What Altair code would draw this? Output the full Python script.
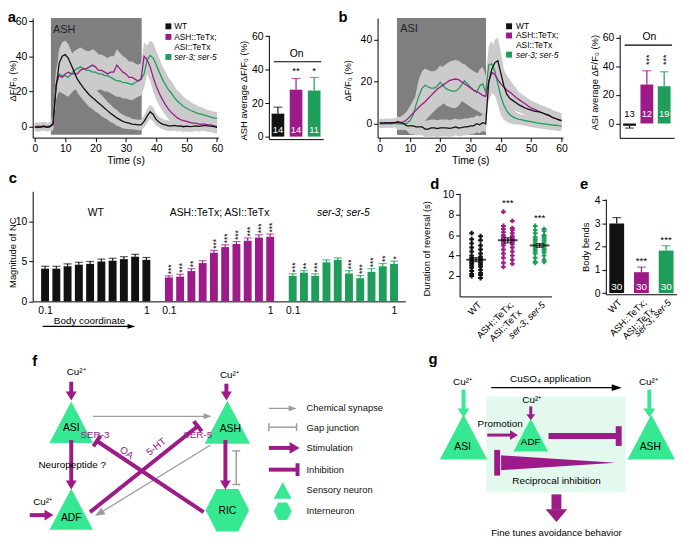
import math
import altair as alt
import pandas as pd

FONT = "Liberation Sans"
W, H = 677, 533          # drawing area (page minus 8px margin)
OX, OY = 8, 8            # page offset of the chart origin

GROUPS = ["WT", "ASH::TeTx; ASI::TeTx", "ser-3; ser-5"]
GROUP_COLORS = ["#111111", "#9c1b88", "#1f9d5a"]
PURPLE = "#9c1b88"
MINT = "#36e891"
ARROW_GRAY = "#9d9d9d"
BOX_GRAY = "#7f7f7f"
BAND_GRAY = "#cbcbcb"
BOX_MINT = "#e3f9ee"

# ---------------- panel a : ASH imaging ----------------
time_s = list(range(61))
a_wt = [0, -0.5, 0, 0.3, -0.3, 0,
        2, 22, 36, 40, 41, 39, 35, 31, 27, 24.5,
        22, 20, 18, 16.5, 15, 13.5, 12, 10.5, 9, 7.5,
        6.3, 5, 4, 3, 2.4, 2, 1.5, 1.3, 1, 1,
        3, 6, 8.5, 7, 4, 2.5, 1.5, 1, 0.5, 0.5,
        0.8, 0.3, 0.5, 0, 0.3, 0, 0.2, 0.5, 0.2, 0.5,
        0.8, 0.5, 0.3, 0, -0.3]
a_tetx = [-0.5, 0, -0.5, 0, -0.3, 0,
          1, 24, 29, 28, 30, 31, 30, 30, 30, 32,
          33, 33, 34, 35, 34, 32, 32, 31, 30, 31,
          31, 35, 33, 31, 30, 28, 28, 27, 26, 27,
          40, 38, 34, 28, 23, 19, 15.5, 12.5, 10, 8,
          6.5, 5, 4, 3.5, 3, 2.5, 2, 2, 1.5, 1.5,
          1.5, 1, 1, 0.5, 0]
a_ser = [0, 0.5, 0, 0.5, 0, 0.5,
         1, 24, 30, 29, 29, 28, 30, 32, 33, 34,
         33, 32, 32, 31, 31, 30, 30, 29, 29, 28,
         27, 26, 26, 25, 25, 24.5, 24, 25, 26, 27,
         30, 38, 40.5, 39, 35, 31, 27, 24, 21, 19,
         16.5, 14.5, 13, 11.5, 10.5, 9.5, 8.8, 8, 7.5, 7,
         6.5, 6, 5.5, 5, 4.8]
a_wt_sem = [2.5, 2.5, 2.5, 2.5, 2.5, 2.5,
            4, 7, 8, 8, 8, 8, 8, 8, 7.5, 7.5,
            7, 7, 7, 6.5, 6.5, 6, 6, 5.5, 5, 5,
            4.5, 4.5, 4, 4, 3.5, 3.5, 3, 3, 3, 3,
            3.5, 4, 4, 4, 3.5, 3, 3, 3, 3, 3,
            3, 3, 3, 3, 3, 3, 3, 3, 3, 3,
            3, 3, 3, 3, 3]
a_tetx_sem = [2, 2, 2, 2, 2, 2,
              3, 8, 9, 9, 9, 9, 9, 9, 9, 9,
              9, 9, 9, 9, 9, 9, 9, 9, 9, 9,
              9, 9, 9, 9, 9, 9, 9, 9, 9, 9,
              8, 8, 8, 8, 7.5, 7, 6.5, 6, 5.5, 5,
              4.5, 4, 4, 4, 4, 4, 4, 4, 4, 4,
              4, 4, 4, 4, 4]
a_ser_sem = [2, 2, 2, 2, 2, 2,
             3, 8, 9, 10, 11, 11, 11, 11, 11, 11,
             11, 11, 11, 11, 11, 9, 9, 9, 9, 9,
             9, 9, 9, 9, 9, 9, 9, 9, 9, 9,
             8, 8, 8.5, 8.5, 8, 8, 7.5, 7.5, 7, 7,
             6.5, 6, 6, 5.5, 5, 5, 4.5, 4.5, 4, 4,
             3.5, 3.5, 3.5, 3.5, 3.5]

# ---------------- panel b : ASI imaging ----------------
b_wt = [0.5, 0.3, 0.5, 0.3, 0.5, 0.5,
        1, 0.5, 0, -1, -1, -1, -1.5, -1.5, -1.5, -2.5,
        -2.5, -2, -2, -2.3, -2, -2, -2, -2.2, -2, -1.5,
        -2, -1.8, -1.5, -1.5, -1, -1, 0, -0.5, 0.5, 0,
        20, 26, 29, 30, 24, 18, 14, 12, 11, 10,
        9, 8.3, 7.5, 7, 6.5, 6, 5.8, 5.5, 5, 4.5,
        4, 3, 2.5, 2, 1.5]
b_tetx = [0, 0.3, 0, 0.5, 0.3, 0.5,
          0.5, 0.5, 1, 2, 3.5, 5, 6.5, 8, 9.3, 10.5,
          12, 13.5, 15, 16.5, 17.5, 18.5, 19.5, 20.5, 21, 21.3,
          21, 20, 19, 18, 17, 16, 15.3, 14.5, 13.5, 13,
          20, 24.5, 23.5, 21, 19, 17.5, 16, 15, 13.8, 12.5,
          11.5, 10.5, 9.5, 8.5, 7.5, 7, 6.3, 5.6, 5, 4.3,
          3.7, 3, 2.5, 2, 1.5]
b_ser = [0, 0, 0.3, 0, 0, 0.3,
         0, 0, 0, 0.3, 1.5, 4, 9, 13.5, 17, 18.3,
         17.5, 17, 17, 18, 19.8, 18, 16.6, 16, 15.5, 15.5,
         16.5, 18.5, 20.5, 19, 17.4, 16, 15, 18, 19, 15,
         28, 28.5, 25, 19, 13, 8.8, 6, 4.3, 3.3, 2.6,
         2.1, 1.8, 1.5, 1.2, 1, 0.7, 0.4, 0.2, 0, -0.2,
         -0.4, -0.6, -0.7, -0.9, -1]
b_wt_sem = [2, 2, 2, 2, 2, 2,
            2.5, 2.5, 2.5, 2.5, 4, 4, 4, 4, 4, 4,
            4, 4, 4, 4, 4, 4, 4, 4, 4, 4,
            4, 4, 4, 4, 4, 4, 4, 4, 4, 4,
            6, 9, 11, 11, 10, 8, 6, 5, 4.5, 4,
            3.5, 3.5, 3.5, 3.5, 3.5, 3.5, 3.5, 3.5, 3.5, 3.5,
            3.5, 3.5, 3.5, 3.5, 3.5]
b_tetx_sem = [2, 2, 2, 2, 2, 2,
              2.5, 3, 3.5, 4, 5, 6, 7, 8, 9, 9,
              9, 9, 9, 9, 9, 9, 9, 9, 9, 9,
              9, 9, 9, 9, 9, 9, 9, 9, 9, 9,
              9, 10, 10, 10, 9, 8, 7, 6, 5, 4.5,
              3.5, 3.5, 3.5, 3.5, 3.5, 3.5, 3.5, 3.5, 3.5, 3.5,
              3.5, 3.5, 3.5, 3.5, 3.5]
b_ser_sem = [2, 2, 2, 2, 2, 2,
             3, 3, 3, 3, 3, 3, 6, 8, 8, 8,
             8, 8, 8, 8, 8, 8, 8, 8, 8, 8,
             8, 8, 8, 8, 8, 8, 8, 8, 8, 8,
             9, 11, 11, 10, 9, 7, 5, 4, 3.5, 3,
             2.5, 2.5, 2.5, 2.5, 2.5, 2.5, 2.5, 2.5, 2.5, 2.5,
             2.5, 2.5, 2.5, 2.5, 2.5]

# ---------------- averages ----------------
a_avg = [13.7, 28.0, 27.5]
a_avg_err = [3.9, 6.7, 7.8]
a_avg_n = ["14", "14", "11"]
a_avg_sig = ["", "**", "*"]

b_avg = [-1.6, 27.2, 26.0]
b_avg_err = [1.6, 9.6, 10.1]
b_avg_n = ["13", "12", "19"]
b_avg_sig = ["", "***", "***"]

# ---------------- panel c ----------------
body_coord = [0.1, 0.2, 0.3, 0.4, 0.5, 0.6, 0.7, 0.8, 0.9, 1.0]
c_wt = [4.1, 4.1, 4.4, 4.6, 4.7, 5.0, 5.1, 5.3, 5.6, 5.2]
c_wt_err = [0.3, 0.3, 0.3, 0.3, 0.3, 0.3, 0.3, 0.3, 0.3, 0.3]
c_tetx = [3.0, 3.1, 3.8, 4.8, 6.1, 6.8, 7.2, 7.6, 8.0, 8.1]
c_tetx_err = [0.2, 0.3, 0.3, 0.3, 0.3, 0.3, 0.3, 0.35, 0.35, 0.35]
c_ser = [3.2, 3.6, 3.2, 4.9, 5.2, 3.5, 2.9, 3.7, 4.4, 4.7]
c_ser_err = [0.25, 0.25, 0.25, 0.3, 0.25, 0.35, 0.35, 0.4, 0.35, 0.35]
c_wt_sig = ["", "", "", "", "", "", "", "", "", ""]
c_tetx_sig = ["***", "***", "**", "", "***", "***", "***", "***", "***", "***"]
c_ser_sig = ["***", "**", "***", "", "", "***", "***", "***", "**", "*"]

# ---------------- panel d ----------------
d_wt = [6.2, 5.9, 5.6, 5.5, 5.2, 5.0, 4.8, 4.6, 4.4, 4.2, 4.0, 3.9, 3.8, 3.7, 3.6,
        3.5, 3.4, 3.3, 3.2, 3.1, 3.0, 2.9, 2.8, 2.6, 2.5, 2.3, 2.2, 2.1, 2.0, 1.8]
d_tetx = [8.3, 7.4, 6.9, 6.7, 6.6, 6.5, 6.3, 6.2, 6.0, 5.9, 5.8, 5.7, 5.6, 5.5, 5.4,
          5.3, 5.2, 5.1, 5.0, 4.8, 4.6, 4.4, 4.2, 4.0, 3.8, 3.6, 3.3, 3.2, 2.9, 5.5]
d_ser = [6.9, 6.6, 6.5, 6.4, 6.2, 6.0, 5.8, 5.7, 5.6, 5.5, 5.4, 5.3, 5.2, 5.1, 5.0,
         4.9, 4.8, 4.7, 4.6, 4.5, 4.4, 4.3, 4.2, 4.0, 3.8, 3.6, 3.4, 3.4, 3.3, 5.9]
d_mean = [3.6, 5.5, 5.0]
d_sem = [0.2, 0.25, 0.18]
d_sig = ["", "***", "***"]

# ---------------- panel e ----------------
e_bends = [3.0, 0.9, 1.83]
e_err = [0.25, 0.22, 0.21]
e_n = ["30", "30", "30"]
e_sig = ["", "***", "***"]

color_scale = alt.Scale(domain=GROUPS, range=GROUP_COLORS)
CAT_EXPR = ("datum.value == 'ASH::TeTx; ASI::TeTx' ? ['ASH::TeTx;', 'ASI::TeTx'] : datum.label")
CAT_ITALIC = {"condition": {"test": "datum.value == 'ser-3; ser-5'", "value": "italic"}, "value": "normal"}


def lin(dom, r0, r1):
    return alt.Scale(domain=dom, range=[r0, r1], nice=False, zero=False)


def y_axis(left, ticks, title, tx, ty):
    return alt.Axis(orient="left", offset=-(left - OX), values=ticks, title=title,
                    titleX=tx, titleY=ty - OY, titleAngle=270, titleAlign="center",
                    titleBaseline="middle")


def x_axis(bottom, **kw):
    return alt.Axis(orient="bottom", offset=(bottom - OY) - H, **kw)


# ------------------------------------------------------------------
def line_panel(series, sems, geom, ydom, yticks, box_t, box_bottom, box_text, box_pos,
               leg_sq_t, leg_txt_t, leg_rows, ytitle_pos):
    left, right, top, bottom = geom
    rows = []
    for g, vals, ss in reversed(list(zip(GROUPS, series, sems))):
        for t, v, s in zip(time_s, vals, ss):
            rows.append(dict(t=t, v=v, lo=v - s, hi=v + s, g=g))
    df = pd.DataFrame(rows)
    xs = lin([-0.7, 60.5], left - OX, right - OX)
    ys = lin(ydom, bottom - OY, top - OY)
    xax = x_axis(bottom, values=[0, 10, 20, 30, 40, 50, 60], title="Time (s)",
                 titleX=(left + right) / 2 - OX, titleY=23, titleAlign="center",
                 titleBaseline="middle", titleFontSize=10.5)
    yax = y_axis(left, yticks, "ΔF/F₀ (%)", *ytitle_pos)

    def X(f):
        return alt.X(f"{f}:Q", scale=xs, axis=xax)

    def Y(f):
        return alt.Y(f"{f}:Q", scale=ys, axis=yax)

    box = pd.DataFrame([dict(t0=box_t[0], t1=box_t[1], v0=box_bottom, v1=ydom[1])])
    lab = pd.DataFrame([dict(t=box_pos[0], v=box_pos[1], s=box_text)])
    leg_sq = pd.DataFrame([dict(t=leg_sq_t, v=r[0], g=r[1]) for r in leg_rows if r[1]])
    leg_tx = pd.DataFrame([dict(t=leg_txt_t, v=r[0], s=r[2], it=r[3]) for r in leg_rows])
    col = alt.Color("g:N", scale=color_scale, legend=None)
    return alt.layer(
        alt.Chart(box).mark_rect(color=BOX_GRAY).encode(x=X("t0"), x2="t1", y=Y("v0"), y2="v1"),
        alt.Chart(df).mark_area(color=BAND_GRAY, opacity=1).encode(
            x=X("t"), y=Y("lo"), y2="hi", detail="g:N"),
        alt.Chart(df).mark_line(strokeWidth=1.3).encode(x=X("t"), y=Y("v"), color=col),
        alt.Chart(lab).mark_text(align="left", baseline="middle", fontSize=11, color="#222222").encode(
            x=X("t"), y=Y("v"), text="s:N"),
        alt.Chart(leg_sq).mark_square(size=36, opacity=1).encode(x=X("t"), y=Y("v"), color=col),
        alt.Chart(leg_tx).transform_filter("!datum.it").mark_text(
            align="left", baseline="middle", fontSize=8.5).encode(x=X("t"), y=Y("v"), text="s:N"),
        alt.Chart(leg_tx).transform_filter("datum.it").mark_text(
            align="left", baseline="middle", fontSize=8.5, fontStyle="italic").encode(
            x=X("t"), y=Y("v"), text="s:N"),
    )


def bar_panel(vals, errs, ns, sigs, geom, ydom, yticks, ytitle, ytitle_pos, band,
              n_v, n_dark, sig_v, sig_vertical, on=None, xlabels=False, bar_fs=9.5):
    left, right, top, bottom = geom
    rows = []
    for i, (g, v, e, n, s, sv) in enumerate(zip(GROUPS, vals, errs, ns, sigs, sig_v)):
        rows.append(dict(g=g, v=v, zero=0.0, end=(v + e) if v >= 0 else (v - e),
                         n=n, nv=n_v, dark=(i in n_dark), sig=s, sv=sv))
    df = pd.DataFrame(rows)
    xs = alt.Scale(domain=GROUPS, range=[left - OX, right - OX],
                   paddingInner=band[0], paddingOuter=band[1])
    ys = lin(ydom, bottom - OY, top - OY)
    if xlabels:
        xax = x_axis(bottom, ticks=False, title=None, labelAngle=-45, labelAlign="right",
                     labelBaseline="top", labelExpr=CAT_EXPR, labelFontStyle=CAT_ITALIC,
                     labelPadding=3, labelFontSize=9.5)
    else:
        xax = x_axis(bottom, ticks=False, labels=False, title=None)
    yax = y_axis(left, yticks, ytitle, *ytitle_pos)
    X = alt.X("g:N", scale=xs, axis=xax)

    def Y(f):
        return alt.Y(f"{f}:Q", scale=ys, axis=yax)

    col = alt.Color("g:N", scale=color_scale, legend=None)
    base = alt.Chart(df)
    if sig_vertical:
        star = base.mark_text(angle=270, fontSize=9, align="center", baseline="middle", dy=2)
    else:
        star = base.mark_text(fontSize=10, align="center", baseline="middle")
    layers = [
        base.mark_bar().encode(x=X, y=Y("v"), y2="zero", color=col),
        base.mark_rule(strokeWidth=1.2).encode(x=X, y=Y("v"), y2="end", color=col),
        base.mark_tick(size=9, thickness=1.2).encode(x=X, y=Y("end"), color=col),
        base.transform_filter("!datum.dark").mark_text(
            color="white", fontSize=bar_fs, baseline="middle").encode(x=X, y=Y("nv"), text="n:N"),
        base.transform_filter("datum.dark").mark_text(
            color="black", fontSize=bar_fs, baseline="middle").encode(x=X, y=Y("nv"), text="n:N"),
        star.encode(x=X, y=Y("sv"), text="sig:N"),
    ]
    if on:
        x1, x2, v, xt, vt = on
        odf = pd.DataFrame([dict(v=v, vt=vt, s="On")])
        layers.append(alt.Chart(odf).mark_rule(color="black", strokeWidth=1.2).encode(
            x=alt.value(x1 - OX), x2=alt.value(x2 - OX), y=Y("v")))
        layers.append(alt.Chart(odf).mark_text(fontSize=10.5, baseline="middle").encode(
            x=alt.value(xt - OX), y=Y("vt"), text="s:N"))
    return alt.layer(*layers)


# ---------------- panels a/b ----------------
panel_a = line_panel([a_wt, a_tetx, a_ser], [a_wt_sem, a_tetx_sem, a_ser_sem],
                     (33, 221, 15, 136), [-6.2, 61.7], [0, 20, 40, 60], (5.3, 35.2), -4.5,
                     "ASH", (6.0, 55), 44.0, 45.9,
                     [(57, "WT", "WT", False), (51, GROUPS[1], "ASH::TeTx;", False),
                      (45, None, "ASI::TeTx", False), (39.6, GROUPS[2], "ser-3; ser-5", True)],
                     (-20, 78))
panel_b = line_panel([b_wt, b_tetx, b_ser], [b_wt_sem, b_tetx_sem, b_ser_sem],
                     (382, 569.6, 15, 136), [-6.6, 50.3], [0, 20, 40], (5.7, 35.1), -5.3,
                     "ASI", (6.8, 45.3), 42.7, 45.0,
                     [(46.4, "WT", "WT", False), (42, GROUPS[1], "ASH::TeTx;", False),
                      (37.3, None, "ASI::TeTx", False), (32.9, GROUPS[2], "ser-3; ser-5", True)],
                     (-30, 78))
panel_a_bar = bar_panel(a_avg, a_avg_err, a_avg_n, a_avg_sig, (272, 327, 32.4, 137.5),
                        [-1.5, 60.5], [0, 20, 40, 60], "ASH average ΔF/F₀ (%)", (-25.5, 88),
                        (0.3, 0.15), 4, [], [0, 39.4, 39.4], False,
                        on=(277, 325, 44.7, 300, 49))
panel_b_bar = bar_panel(b_avg, b_avg_err, b_avg_n, b_avg_sig, (627, 682, 31.8, 136.2),
                        [-10, 62], [0, 20, 40, 60], "ASI average ΔF/F₀ (%)", (-25.5, 80),
                        (0.26, 0.2), 6.9, [0], [0, 44.5, 44.5], True,
                        on=(632, 680, 54.7, 657, 60))

# ---------------- panel c ----------------
c_rows = []
for gi, (g, vals, errs, sigs) in enumerate(zip(GROUPS, [c_wt, c_tetx, c_ser],
                                               [c_wt_err, c_tetx_err, c_ser_err],
                                               [c_wt_sig, c_tetx_sig, c_ser_sig])):
    for bc, v, e, s in zip(body_coord, vals, errs, sigs):
        c_rows.append(dict(g=g, pos=round(bc + 1.1 * gi, 3), v=v, zero=0.0, end=v + e, sig=s))
c_df = pd.DataFrame(c_rows)
c_titles = pd.DataFrame([dict(pos=0.55 + 1.1 * i, v=11.1, s=g, it=(i == 2)) for i, g in enumerate(GROUPS)])
xs_c = lin([0.034, 3.256], 33 - OX, 410 - OX)
ys_c = lin([0, 13.8], 301.7 - OY, 190.3 - OY)
xax_c = x_axis(301.7, values=[0.1, 1.0, 1.2, 2.1, 2.3, 3.2], ticks=False,
               labelExpr="(round(datum.value * 10) % 11 == 1) ? '0.1' : '1'", labelPadding=4,
               title="Body coordinate", titleX=90 - OX, titleY=19, titleAlign="center",
               titleBaseline="middle", titleFontSize=10)
yax_c = y_axis(33, [0, 5, 10], "Magnitude of NC", -20.5, 252)
Xc = alt.X("pos:Q", scale=xs_c, axis=xax_c)


def Yc(f):
    return alt.Y(f"{f}:Q", scale=ys_c, axis=yax_c)


col = alt.Color("g:N", scale=color_scale, legend=None)
panel_c = alt.layer(
    alt.Chart(c_df).mark_bar(size=8).encode(x=Xc, y=Yc("v"), y2="zero", color=col),
    alt.Chart(c_df).mark_rule(strokeWidth=1.2).encode(x=Xc, y=Yc("v"), y2="end", color=col),
    alt.Chart(c_df).mark_tick(orient="horizontal", size=8, thickness=1.2).encode(
        x=Xc, y=Yc("end"), color=col),
    alt.Chart(c_df).mark_text(angle=270, align="left", baseline="middle", fontSize=8.5, dx=1.5, dy=2).encode(
        x=Xc, y=Yc("end"), text="sig:N"),
    alt.Chart(c_titles).transform_filter("!datum.it").mark_text(fontSize=10.5, baseline="middle").encode(
        x=alt.X("pos:Q", scale=xs_c, axis=xax_c), y=Yc("v"), text="s:N"),
    alt.Chart(c_titles).transform_filter("datum.it").mark_text(
        fontSize=10.5, baseline="middle", fontStyle="italic").encode(
        x=alt.X("pos:Q", scale=xs_c, axis=xax_c), y=Yc("v"), text="s:N"),
)

# ---------------- panel d ----------------
d_rows = []
for gi, (g, vals) in enumerate(zip(GROUPS, [d_wt, d_tetx, d_ser])):
    for k, v in enumerate(vals):
        side = -1 if k % 2 == 0 else 1
        d_rows.append(dict(g=g, xp=gi + side * 0.14, v=v))
d_df = pd.DataFrame(d_rows)
d_stats = pd.DataFrame([dict(g=g, gi=i, m=m, lo=m - s, hi=m + s, sig=sg,
                             sv=(9.2 if i == 1 else 7.7))
                        for i, (g, m, s, sg) in enumerate(zip(GROUPS, d_mean, d_sem, d_sig))])
xs_d = lin([-0.519, 2.373], 465 - OX, 558 - OX)
ys_d = lin([0, 10.1], 296.7 - OY, 192.4 - OY)
xax_d = x_axis(296.7, values=[0, 1, 2], ticks=False, title=None, labelAngle=-45,
               labelAlign="right", labelBaseline="top", labelPadding=3, labelFontSize=9.5,
               labelExpr="datum.value == 0 ? 'WT' : datum.value == 1 ? ['ASH::TeTx;', 'ASI::TeTx'] : 'ser-3; ser-5'",
               labelFontStyle={"condition": {"test": "datum.value == 2", "value": "italic"},
                               "value": "normal"})
yax_d = y_axis(465, [2, 4, 6, 8, 10], "Duration of reversal (s)", -33, 248)


def Xd(f):
    return alt.X(f"{f}:Q", scale=xs_d, axis=xax_d)


def Yd(f):
    return alt.Y(f"{f}:Q", scale=ys_d, axis=yax_d)


panel_d = alt.layer(
    alt.Chart(d_df).mark_point(shape="cross", filled=True, size=24, opacity=1).encode(
        x=Xd("xp"), y=Yd("v"), color=col),
    alt.Chart(d_stats).mark_rule(color="black", strokeWidth=1.2).encode(x=Xd("gi"), y=Yd("lo"), y2="hi"),
    alt.Chart(d_stats).mark_tick(orient="horizontal", size=8, thickness=1.2, color="black").encode(
        x=Xd("gi"), y=Yd("lo")),
    alt.Chart(d_stats).mark_tick(orient="horizontal", size=8, thickness=1.2, color="black").encode(
        x=Xd("gi"), y=Yd("hi")),
    alt.Chart(d_stats).mark_tick(orient="horizontal", size=20, thickness=2, color="black").encode(
        x=Xd("gi"), y=Yd("m")),
    alt.Chart(d_stats).mark_text(fontSize=10, baseline="middle").encode(
        x=Xd("gi"), y=Yd("sv"), text="sig:N"),
)

# ---------------- panel e ----------------
panel_e = bar_panel(e_bends, e_err, e_n, e_sig, (613, 685, 198.1, 294.5), [-0.05, 4.05],
                    [0, 1, 2, 3, 4], "Body bends", (-20.5, 246.5), (0.4, 0.14),
                    0.27, [], [0, 1.4, 2.28], False, xlabels=True, bar_fs=10)

# ---------------- diagrams f / g (page pixel coordinates) ----------------
diag_arrows = [  # x1, y1, x2(tip), y2(tip), colour, width, head length, head width
    (72, 383, 72, 402, PURPLE, 4, 9, 11),
    (229, 385, 229, 402, PURPLE, 4, 9, 11),
    (94, 418, 214, 418, ARROW_GRAY, 1.3, 8, 6),
    (72, 442, 72, 492, PURPLE, 4, 9, 11),
    (30, 518, 54, 518, PURPLE, 4, 9, 11),
    (228, 442, 228, 492, PURPLE, 4, 9, 11),
    (213, 447, 96, 519, ARROW_GRAY, 1.3, 10, 8),
    (272, 410, 300, 410, ARROW_GRAY, 1.3, 8, 6),
    (272, 450, 303, 450, PURPLE, 4, 10, 12),
    (43, 327, 137, 327, "#000000", 1.2, 8, 5),
    (469, 391, 469, 419, MINT, 4, 9, 12),
    (657, 391, 657, 419, MINT, 4, 9, 12),
    (497, 389, 629, 389, "#000000", 1.3, 10, 7),
    (537, 408, 537, 422, PURPLE, 3, 6, 9),
    (493, 437, 524, 437, PURPLE, 3, 8, 10),
    (563, 497, 563, 525, PURPLE, 10, 13, 22),
]
diag_inhibitions = [  # x1, y1, x2(bar), y2(bar), colour, width, bar length
    (91, 515, 200, 428, PURPLE, 4, 13),
    (206, 515, 98, 443, PURPLE, 4, 13),
    (272, 472, 301, 472, PURPLE, 4, 13),
    (555, 438, 626, 438, PURPLE, 6, 20),
]
diag_segments = [  # x1, y1, x2, y2, colour, width
    (239, 453, 239, 487, ARROW_GRAY, 1.5),
    (235, 453, 243, 453, ARROW_GRAY, 1.5),
    (235, 487, 243, 487, ARROW_GRAY, 1.5),
    (272, 429, 300, 429, ARROW_GRAY, 1.5),
    (272, 425, 272, 433, ARROW_GRAY, 1.5),
    (300, 425, 300, 433, ARROW_GRAY, 1.5),
    (503, 452, 503, 478, PURPLE, 6),
]
TRI = "M0,-0.95L1,0.95L-1,0.95Z"
HEX = "M-1,0L-0.5,-0.98L0.5,-0.98L1,0L0.5,0.98L-0.5,0.98Z"
diag_neurons = [  # x, y, width, shape
    (72, 424, 44, TRI), (230, 424, 46, TRI), (72, 512, 44, TRI), (230, 513, 44, HEX),
    (286, 493, 18, TRI), (286, 514, 18, HEX),
    (469, 439, 48, TRI), (659, 439, 48, TRI), (537, 437, 35, TRI),
]
diag_texts = [  # text, x, y, size, colour, angle, align, weight
    ("a", 12, 14, 15, "#000000", 0, "center", "bold"),
    ("b", 347, 14, 15, "#000000", 0, "center", "bold"),
    ("c", 13, 177, 15, "#000000", 0, "center", "bold"),
    ("d", 440, 183, 15, "#000000", 0, "center", "bold"),
    ("e", 591, 183, 15, "#000000", 0, "center", "bold"),
    ("f", 35, 362, 15, "#000000", 0, "center", "bold"),
    ("g", 438, 360, 15, "#000000", 0, "center", "bold"),
    ("Cu²⁺", 77, 373, 10, "#000000", 0, "center", "normal"),
    ("Cu²⁺", 232, 376, 10, "#000000", 0, "center", "normal"),
    ("Cu²⁺", 43, 505, 10, "#000000", 0, "center", "normal"),
    ("ASI", 72, 430, 10.5, "#000000", 0, "center", "normal"),
    ("ASH", 233, 431, 10.5, "#000000", 0, "center", "normal"),
    ("ADF", 72, 521, 10.5, "#000000", 0, "center", "normal"),
    ("RIC", 230, 514, 10.5, "#000000", 0, "center", "normal"),
    ("SER-3", 96, 437, 10, PURPLE, 0, "center", "normal"),
    ("SER-5", 200, 437, 10, PURPLE, 0, "center", "normal"),
    ("Neuropeptide ?", 73, 467, 10, "#000000", 0, "center", "normal"),
    ("OA", 128, 455, 10, PURPLE, 34, "center", "normal"),
    ("5-HT", 158, 449, 10, PURPLE, 322, "center", "normal"),
    ("Chemical synapse", 310, 410, 9.5, "#111111", 0, "left", "normal"),
    ("Gap junction", 310, 430, 9.5, "#111111", 0, "left", "normal"),
    ("Stimulation", 310, 450, 9.5, "#111111", 0, "left", "normal"),
    ("Inhibition", 310, 472, 9.5, "#111111", 0, "left", "normal"),
    ("Sensory neuron", 310, 493, 9.5, "#111111", 0, "left", "normal"),
    ("Interneuron", 310, 514, 9.5, "#111111", 0, "left", "normal"),
    ("Cu²⁺", 468, 383, 10, "#000000", 0, "center", "normal"),
    ("Cu²⁺", 656, 383, 10, "#000000", 0, "center", "normal"),
    ("Cu²⁺", 538, 402, 10, "#000000", 0, "center", "normal"),
    ("CuSO₄ application", 557, 380, 10, "#000000", 0, "center", "normal"),
    ("ASI", 468, 449, 10.5, "#000000", 0, "center", "normal"),
    ("ASH", 658, 449, 10.5, "#000000", 0, "center", "normal"),
    ("ADF", 537, 444, 10, "#000000", 0, "center", "normal"),
    ("Promotion", 506, 426, 10, "#000000", 0, "center", "normal"),
    ("Reciprocal inhibition", 563, 484, 10, "#000000", 0, "center", "normal"),
    ("Fine tunes avoidance behavior", 563, 536, 9.7, "#000000", 0, "center", "normal"),
]

rules, heads = [], []
for x1, y1, x2, y2, c, w, hl, hw in diag_arrows:
    dx, dy = x2 - x1, y2 - y1
    L = math.hypot(dx, dy)
    ux, uy = dx / L, dy / L
    rules.append(dict(x=x1, y=y1, x2=x2 - ux * (hl - 0.5), y2=y2 - uy * (hl - 0.5), c=c, w=w))
    ang = (math.degrees(math.atan2(dx, -dy)) + 360) % 360
    r = hw / hl
    heads.append(dict(x=x2 - ux * hl / 2, y=y2 - uy * hl / 2, c=c, ang=ang, s=hl * hl,
                      shape=f"M0,-1L{r:.3f},1L{-r:.3f},1Z"))
for x1, y1, x2, y2, c, w, tl in diag_inhibitions:
    dx, dy = x2 - x1, y2 - y1
    L = math.hypot(dx, dy)
    px_, py_ = -dy / L, dx / L
    rules.append(dict(x=x1, y=y1, x2=x2, y2=y2, c=c, w=w))
    rules.append(dict(x=x2 + px_ * tl / 2, y=y2 + py_ * tl / 2,
                      x2=x2 - px_ * tl / 2, y2=y2 - py_ * tl / 2, c=c, w=w))
for x1, y1, x2, y2, c, w in diag_segments:
    rules.append(dict(x=x1, y=y1, x2=x2, y2=y2, c=c, w=w))

DXS = lin([8, 685], 0, W)
DYS = lin([8, 541], 0, H)
DX = alt.X("x:Q", scale=DXS, axis=None)
DY = alt.Y("y:Q", scale=DYS, axis=None)

rules_df = pd.DataFrame(rules)
heads_df = pd.DataFrame(heads)
neur_df = pd.DataFrame([dict(x=x, y=y, s=w * w, shape=sh) for x, y, w, sh in diag_neurons])
wedge_df = pd.DataFrame([dict(x=565, y=465, s=116 * 116, shape="M-1,-0.13L1,0L-1,0.13Z")])
box_df = pd.DataFrame([dict(x=492, y=398, x2=633, y2=495)])
txt_df = pd.DataFrame([dict(t=t, x=x, y=y, fs=fs, c=c, ang=a, al=al, wt=wt)
                       for t, x, y, fs, c, a, al, wt in diag_texts])


def text_layer(align, weight):
    sub = txt_df[(txt_df.al == align) & (txt_df.wt == weight)]
    return alt.Chart(sub).mark_text(align=align, baseline="middle", fontWeight=weight).encode(
        x=DX, y=DY, text="t:N", color=alt.Color("c:N", scale=None),
        size=alt.Size("fs:Q", scale=None), angle=alt.Angle("ang:Q", scale=None))


diagram = alt.layer(
    alt.Chart(box_df).mark_rect(color=BOX_MINT).encode(x=DX, y=DY, x2="x2", y2="y2"),
    alt.Chart(neur_df).mark_point(filled=True, opacity=1, color=MINT, strokeWidth=0).encode(
        x=DX, y=DY, size=alt.Size("s:Q", scale=None), shape=alt.Shape("shape:N", scale=None)),
    alt.Chart(rules_df).mark_rule().encode(
        x=DX, y=DY, x2="x2", y2="y2", color=alt.Color("c:N", scale=None),
        strokeWidth=alt.StrokeWidth("w:Q", scale=None)),
    alt.Chart(heads_df).mark_point(filled=True, opacity=1, strokeWidth=0).encode(
        x=DX, y=DY, color=alt.Color("c:N", scale=None), size=alt.Size("s:Q", scale=None),
        shape=alt.Shape("shape:N", scale=None), angle=alt.Angle("ang:Q", scale=None)),
    alt.Chart(wedge_df).mark_point(filled=True, opacity=1, color=PURPLE, strokeWidth=0).encode(
        x=DX, y=DY, size=alt.Size("s:Q", scale=None), shape=alt.Shape("shape:N", scale=None)),
    text_layer("center", "normal"),
    text_layer("left", "normal"),
    text_layer("center", "bold"),
)

chart = alt.layer(
    panel_a, panel_a_bar, panel_b, panel_b_bar, panel_c, panel_d, panel_e, diagram
).resolve_scale(
    x="independent", y="independent", color="independent", size="independent",
    shape="independent", angle="independent", strokeWidth="independent"
).properties(
    width=W, height=H, padding=0, autosize=alt.AutoSizeParams(type="none")
).configure(font=FONT).configure_view(stroke=None).configure_axis(
    grid=False, domainColor="#000000", tickColor="#000000", labelColor="#000000",
    titleColor="#000000", labelFontSize=10.5, titleFontSize=9.5, titleFontWeight="normal",
    tickSize=4, labelPadding=2, labelFlush=False, labelOverlap=False
)

chart.save("out.html", embed_options={"renderer": "svg", "actions": False})
